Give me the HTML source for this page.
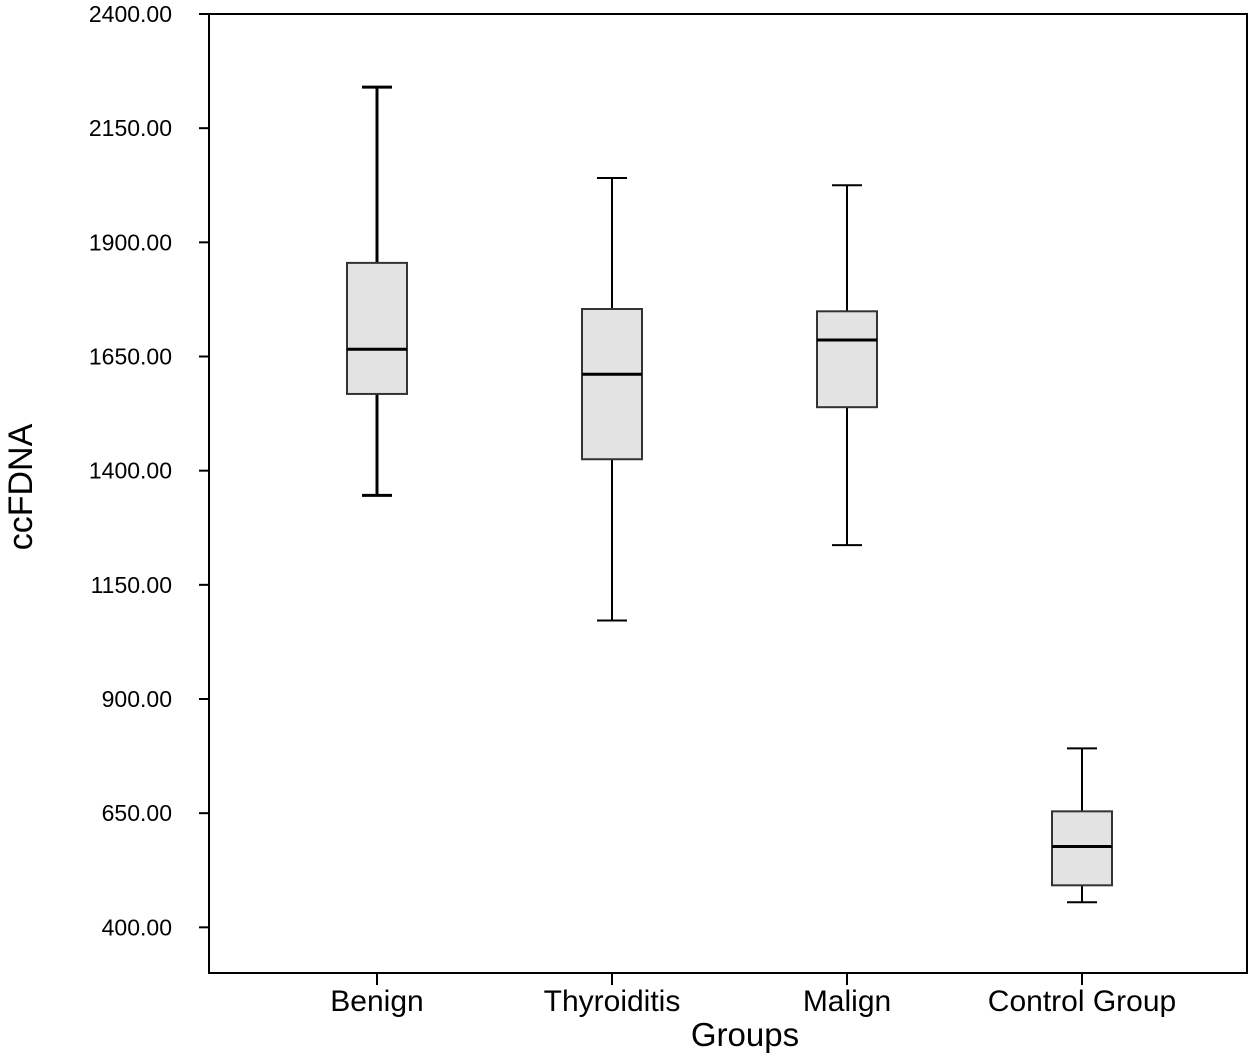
<!DOCTYPE html>
<html><head><meta charset="utf-8"><style>
body{margin:0;background:#fff}
svg text{font-family:"Liberation Sans",Arial,sans-serif;fill:#000}
</style></head><body>
<svg id="chart" width="1256" height="1055" xmlns="http://www.w3.org/2000/svg">
<rect x="209" y="14" width="1038" height="959" fill="#fff" stroke="#000" stroke-width="2"/>
<text x="32" y="487" font-size="34" text-anchor="middle" transform="rotate(-90 32 487)">ccFDNA</text>
<text x="745" y="1046" font-size="33" text-anchor="middle">Groups</text>
<g id="g"></g>
</svg>
<script>
const categories=["Benign","Thyroiditis","Malign","Control Group"];
const whiskerHigh=[2240,2041,2025,792];
const q3=[1855,1754,1749,654];
const medians=[1666,1611,1686,577];
const q1=[1568,1425,1539,492];
const whiskerLow=[1346,1072,1237,455];
const yTicks=[400,650,900,1150,1400,1650,1900,2150,2400];
const yMin=300,yMax=2400;
const y=v=>973-(v-yMin)*(959/(yMax-yMin));
const x=i=>377+i*235;
const g=document.getElementById('g');
const NS="http://www.w3.org/2000/svg";
function mk(t,a){const e=document.createElementNS(NS,t);for(const k in a)e.setAttribute(k,a[k]);g.appendChild(e);return e;}
yTicks.forEach(v=>{
 const l=mk('line',{x1:199,x2:209,y1:y(v),y2:y(v),stroke:'#000','stroke-width':2});
 
 
 const t=mk('text',{x:172,y:y(v)+8,'font-size':23,'text-anchor':'end'});
 t.textContent=v.toFixed(2);
 
 
});
categories.forEach((c,i)=>{
 const cx=x(i), sw=i==0?3:2;
 const tk=mk('line',{x1:cx,x2:cx,y1:973,y2:985,stroke:'#000','stroke-width':2});
 
 
 const t=mk('text',{x:cx,y:1011,'font-size':30,'text-anchor':'middle'});
 t.textContent=c;
 
 
 const w=mk('line',{x1:cx,x2:cx,y1:y(whiskerHigh[i]),y2:y(whiskerLow[i]),stroke:'#000','stroke-width':sw});
 
 
 [whiskerHigh[i],whiskerLow[i]].forEach(v=>{
  const cp=mk('line',{x1:cx-15,x2:cx+15,y1:y(v),y2:y(v),stroke:'#000','stroke-width':sw});
  
  
 });
 const b=mk('rect',{x:cx-30,y:y(q3[i]),width:60,height:y(q1[i])-y(q3[i]),fill:'#e3e3e3',stroke:'#333','stroke-width':2});
 
 
 const m=mk('line',{x1:cx-30,x2:cx+30,y1:y(medians[i]),y2:y(medians[i]),stroke:'#000','stroke-width':3});
 
 
});
</script>
</body></html>
